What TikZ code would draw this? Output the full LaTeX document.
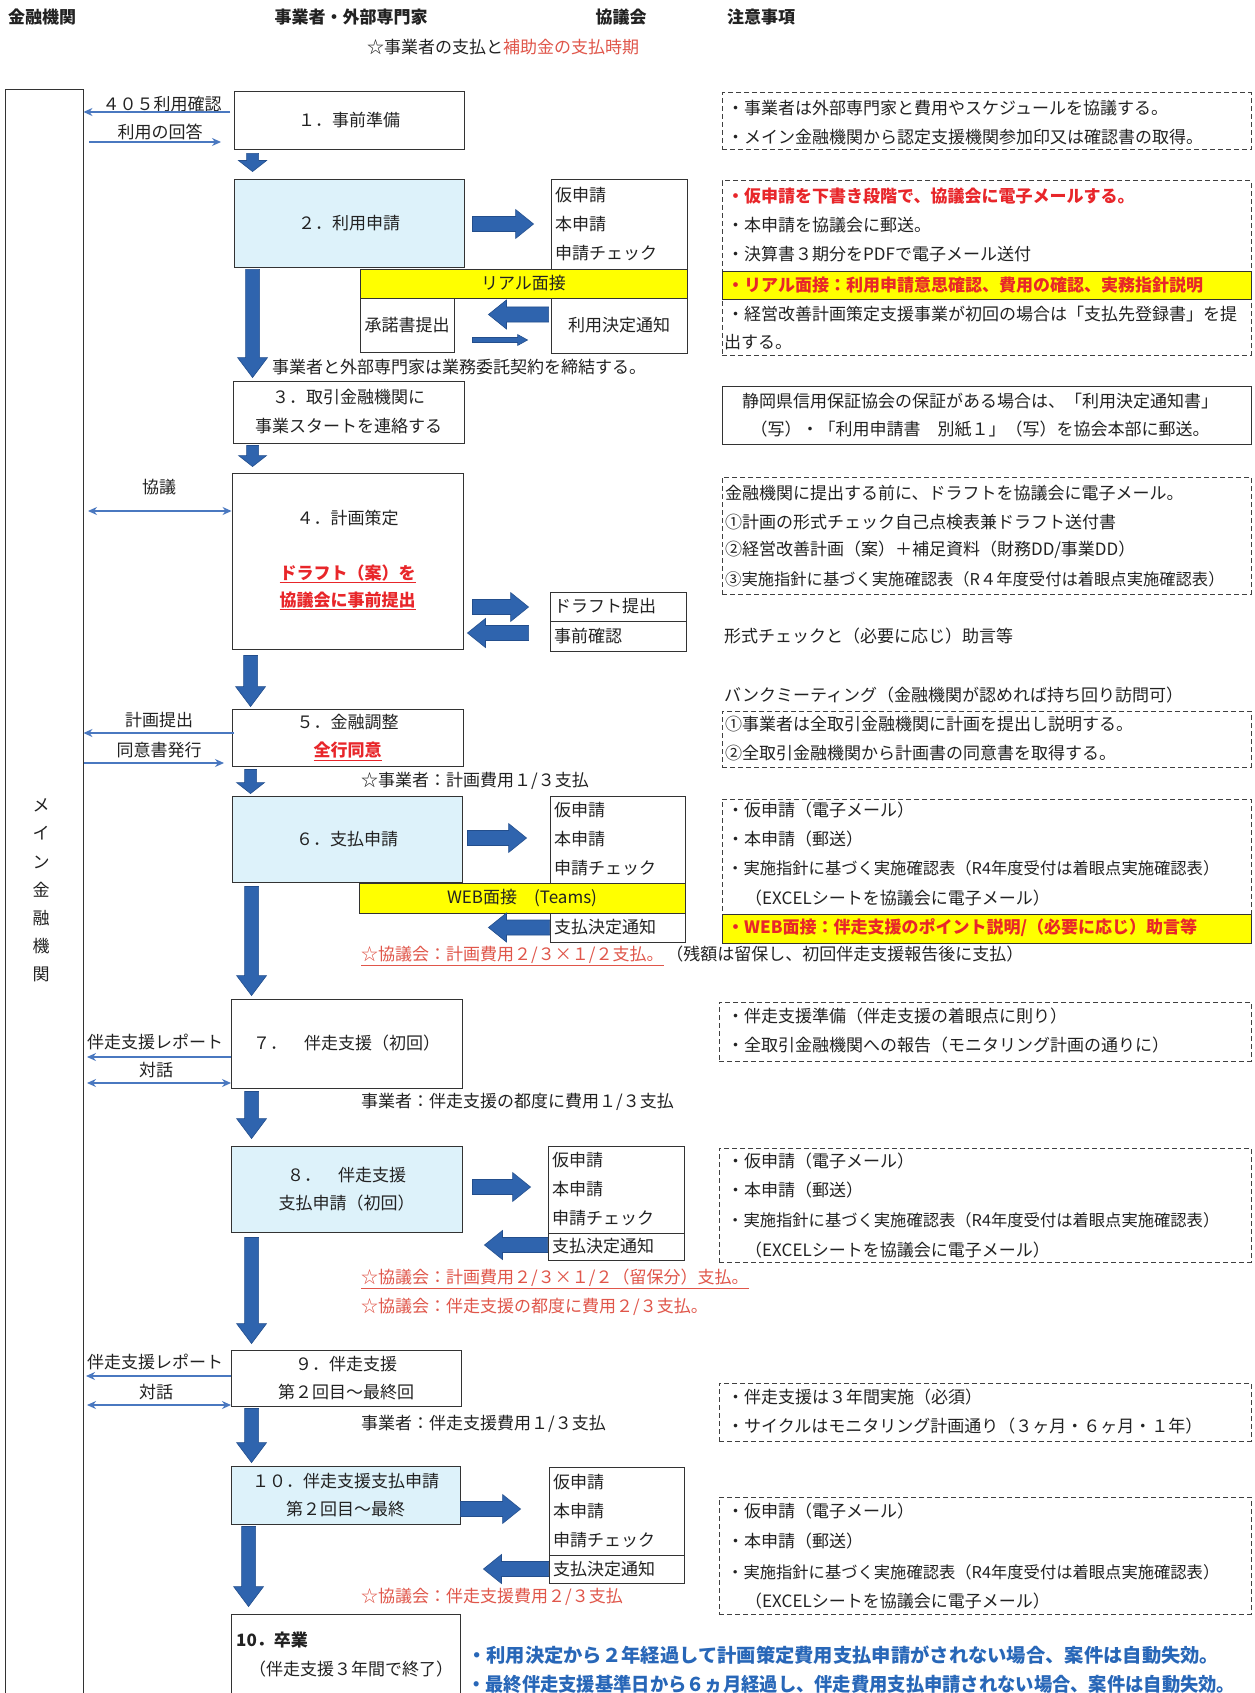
\documentclass[tikz,border=0pt]{standalone}
\usepackage{fontspec}
\setmainfont{Noto Sans CJK JP}
\usetikzlibrary{arrows.meta,calc}
\definecolor{lblue}{HTML}{DDF2FA}
\definecolor{barw}{HTML}{2F64AE}
\definecolor{barwd}{HTML}{234E8C}
\definecolor{thinb}{HTML}{4A78C0}
\definecolor{ylw}{HTML}{FFFF00}
\definecolor{rd}{HTML}{E8262A}
\definecolor{sal}{HTML}{E0564A}
\definecolor{blu}{HTML}{2867B8}
\definecolor{txt}{HTML}{222222}
\newcommand\fsA{\fontsize{17}{20}\selectfont}
\newcommand\fsB{\fontsize{16.3}{20}\selectfont}
\newcommand\fsL{\fontsize{17}{29}\selectfont}
\newcommand\fsV{\fontsize{17}{28.2}\selectfont}
\newcommand\fsT{\fontsize{17}{28}\selectfont}
\newcommand\fsG{\fontsize{19}{22}\selectfont}
\tikzset{
 every node/.style={font=\fsA, text=txt, inner sep=0pt},
 box/.style={draw=black!80, line width=0.9pt, align=center, fill=white, font=\fsT},
 lbox/.style={box, fill=lblue},
 ybar/.style={draw=black!80, line width=0.9pt, fill=ylw},
 lst/.style={draw=black!80, line width=0.9pt, fill=white, align=left, inner xsep=4pt, font=\fsL},
 note/.style={draw=black!75, line width=1pt, dash pattern=on 5pt off 3pt},
 nt/.style={anchor=west},
 thinar/.style={draw=thinb, line width=1.3pt, -{Stealth[length=9pt,width=8pt]}},
 thinbi/.style={draw=thinb, line width=1.3pt, {Stealth[length=9pt,width=8pt]}-{Stealth[length=9pt,width=8pt]}},
 bd/.style={fill=barw, draw=barwd, line width=0.6pt, to path={let \p1=(\tikztostart), \p2=(\tikztotarget) in (\x1-7pt,\y1) -- (\x1+7pt,\y1) -- (\x1+7pt,\y2+20pt) -- (\x1+15pt,\y2+20pt) -- (\x1,\y2) -- (\x1-15pt,\y2+20pt) -- (\x1-7pt,\y2+20pt) -- cycle}},
 bds/.style={fill=barw, draw=barwd, line width=0.6pt, to path={let \p1=(\tikztostart), \p2=(\tikztotarget) in (\x1-6pt,\y1) -- (\x1+6pt,\y1) -- (\x1+6pt,\y2+11pt) -- (\x1+14pt,\y2+11pt) -- (\x1,\y2) -- (\x1-14pt,\y2+11pt) -- (\x1-6pt,\y2+11pt) -- cycle}},
 br/.style={fill=barw, draw=barwd, line width=0.6pt, to path={let \p1=(\tikztostart), \p2=(\tikztotarget) in (\x1,\y1+7.5pt) -- (\x2-18pt,\y1+7.5pt) -- (\x2-18pt,\y1+14.5pt) -- (\x2,\y1) -- (\x2-18pt,\y1-14.5pt) -- (\x2-18pt,\y1-7.5pt) -- (\x1,\y1-7.5pt) -- cycle}},
 brs/.style={fill=barw, draw=barwd, line width=0.6pt, to path={let \p1=(\tikztostart), \p2=(\tikztotarget) in (\x1,\y1+2.5pt) -- (\x2-10pt,\y1+2.5pt) -- (\x2-10pt,\y1+5.5pt) -- (\x2,\y1) -- (\x2-10pt,\y1-5.5pt) -- (\x2-10pt,\y1-2.5pt) -- (\x1,\y1-2.5pt) -- cycle}},
 bl/.style={fill=barw, draw=barwd, line width=0.6pt, to path={let \p1=(\tikztostart), \p2=(\tikztotarget) in (\x1,\y1+7.5pt) -- (\x2+18pt,\y1+7.5pt) -- (\x2+18pt,\y1+14.5pt) -- (\x2,\y1) -- (\x2+18pt,\y1-14.5pt) -- (\x2+18pt,\y1-7.5pt) -- (\x1,\y1-7.5pt) -- cycle}},
}
\begin{document}
\begin{tikzpicture}[x=1pt,y=-1pt]
\useasboundingbox[fill=white] (0,0) rectangle (1254,1693);

% headers
\node[nt] (h1) at (8,17) {\bfseries 金融機関};
\node (h2) at (351,17) {\bfseries 事業者・外部専門家};
\node (h3) at (621,17) {\bfseries 協議会};
\node[nt] (h4) at (727,17) {\bfseries 注意事項};
\node (h5) at (503,47) {☆事業者の支払と\textcolor{sal}{補助金の支払時期}};

% main bank box
\node[box, minimum width=78pt, minimum height=1620pt] (mb) at (44,899) {};
\node[font=\fsV, align=center] (mbt) at (41,890.5) {メ\\イ\\ン\\金\\融\\機\\関};

% step boxes
\node[box, minimum width=230pt, minimum height=58pt] (b1) at (349,120) {１．事前準備};
\node[lbox, minimum width=230pt, minimum height=88pt] (b2) at (349,223) {２．利用申請};
\node[lst, text width=128pt, minimum height=90pt] (l2) at (619,224) {仮申請\\本申請\\申請チェック};
\node[ybar, minimum width=327pt, minimum height=29pt] (y2) at (523.5,283.5) {リアル面接};
\node[box, minimum width=94pt, minimum height=54pt] (s2) at (407,325) {承諾書提出};
\node[box, minimum width=136pt, minimum height=55pt] (d2) at (619,325.5) {利用決定通知};
\node[box, minimum width=231pt, minimum height=62pt, font=\fsL] (b3) at (348.5,412) {３．取引金融機関に\\事業スタートを連絡する};
\node[box, minimum width=231pt, minimum height=176pt] (b4) at (347.5,561) {};
\node (t4a) at (347.5,518) {４．計画策定};
\node (t4b) at (347.5,574) {\textcolor{rd}{\bfseries\underline{ドラフト（案）を}}};
\node (t4c) at (347.5,601) {\textcolor{rd}{\bfseries\underline{協議会に事前提出}}};
\node[lst, text width=128pt, minimum height=29pt, font=\fsA] (df) at (618,606.5) {ドラフト提出};
\node[lst, text width=128pt, minimum height=30pt, font=\fsA] (jk) at (618,636) {事前確認};
\node[box, minimum width=231pt, minimum height=57pt] (b5) at (347.5,737.5) {５．金融調整\\\textcolor{rd}{\bfseries\underline{全行同意}}};
\node[lbox, minimum width=230pt, minimum height=86pt] (b6) at (347,839) {６．支払申請};
\node[lst, text width=127pt, minimum height=87pt] (l6) at (617.5,839.5) {仮申請\\本申請\\申請チェック};
\node[ybar, minimum width=326pt, minimum height=30pt] (y6) at (522,898) {WEB面接　(Teams)};
\node[lst, text width=127pt, minimum height=29pt, font=\fsA] (d6) at (617.5,927.5) {支払決定通知};
\node[box, minimum width=231pt, minimum height=89pt] (b7) at (346.5,1043.5) {７．　伴走支援（初回）};
\node[lbox, minimum width=231pt, minimum height=86pt] (b8) at (346.5,1189) {８．　伴走支援\\支払申請（初回）};
\node[lst, text width=128pt, minimum height=87pt] (l8) at (616,1189.5) {仮申請\\本申請\\申請チェック};
\node[lst, text width=128pt, minimum height=27pt, font=\fsA] (d8) at (616,1246.5) {支払決定通知};
\node[box, minimum width=230pt, minimum height=56pt] (b9) at (346,1378) {９．伴走支援\\第２回目～最終回};
\node[lbox, minimum width=229pt, minimum height=58pt] (b10) at (345.5,1495) {１０．伴走支援支払申請\\第２回目～最終};
\node[lst, text width=127pt, minimum height=88pt] (l10) at (616.5,1511) {仮申請\\本申請\\申請チェック};
\node[lst, text width=127pt, minimum height=28pt, font=\fsA] (d10) at (616.5,1569) {支払決定通知};
\node[box, minimum width=229pt, minimum height=96pt] (b11) at (345.5,1662) {};
\node[nt] (t11a) at (236,1640) {\bfseries 10．卒業};
\node (t11b) at (351,1669) {（伴走支援３年間で終了）};

% block arrows
\path[bds] ($(b1.south west)+(19,4)$) to ($(b2.north west)+(19,-7)$);
\path[bd] ($(b2.south west)+(19,2)$) to ($(b3.north west)+(20,-3)$);
\path[bds] ($(b3.south west)+(20,2)$) to ($(b4.north west)+(21,-6)$);
\path[bd] ($(b4.south west)+(19,6)$) to ($(b5.north west)+(19,-2)$);
\path[bds] ($(b5.south west)+(19,3)$) to ($(b6.north west)+(19,-2)$);
\path[bd] ($(b6.south west)+(20,4)$) to ($(b7.north west)+(21,-3)$);
\path[bd] ($(b7.south west)+(21,3)$) to ($(b8.north west)+(21,-7)$);
\path[bd] ($(b8.south west)+(21,5)$) to ($(b9.north west)+(21,-6)$);
\path[bd] ($(b9.south west)+(21,2)$) to ($(b10.north west)+(21,-3)$);
\path[bd] ($(b10.south west)+(18,2)$) to ($(b11.north west)+(18,-7)$);

\path[br] ($(b2.east)+(8,1)$) to ($(l2.west)+(-17,0)$);
\path[bl] ($(d2.west)+(-2,-11)$) to ($(s2.east)+(34,-11)$);
\path[brs] ($(s2.east)+(18,15)$) to ($(d2.west)+(-23,15)$);
\path[br] ($(b4.east)+(9,46)$) to ($(df.west)+(-21,0)$);
\path[bl] ($(jk.west)+(-21,-3)$) to ($(b4.east)+(4,72)$);
\path[br] ($(b6.east)+(5,-1)$) to ($(l6.west)+(-23,0)$);
\path[bl] (d6.west) to ($(b6.east)+(26,0)$);
\path[br] ($(b8.east)+(10,-2)$) to ($(l8.west)+(-17,0)$);
\path[bl] ($(d8.west)+(0,-1.5)$) to ($(b8.east)+(22,0)$);
\path[br] ($(b10.east)+(0,14)$) to ($(l10.west)+(-28,0)$);
\path[bl] (d10.west) to ($(b10.east)+(23,0)$);

% thin connectors and labels
\node (k1) at (162,104) {４０５利用確認};
\coordinate (a1) at (230,112);
\draw[thinar] (a1) -- (a1 -| mb.east);
\node (k2) at (160,132) {利用の回答};
\coordinate (a2) at (89,142); \coordinate (a2e) at (221,142);
\draw[thinar] (a2) -- (a2e);
\node (k3) at (159,487) {協議};
\coordinate (a3) at (88,511);
\draw[thinbi] (a3) -- (a3 -| b4.west);
\node (k4) at (159,720) {計画提出};
\coordinate (a4) at (234,733);
\draw[thinar] (a4) -- (a4 -| mb.east);
\node (k5) at (159,750) {同意書発行};
\coordinate (a5) at (84,763); \coordinate (a5e) at (224,763);
\draw[thinar] (a5) -- (a5e);
\node (k6) at (155,1042) {伴走支援レポート};
\coordinate (a6) at (231,1057); \coordinate (a6e) at (87,1057);
\draw[thinar] (a6) -- (a6e);
\node (k7) at (156,1070) {対話};
\coordinate (a7) at (87,1083); \coordinate (a7e) at (231,1083);
\draw[thinbi] (a7) -- (a7e);
\node (k8) at (155,1362) {伴走支援レポート};
\coordinate (a8) at (231,1376); \coordinate (a8e) at (86,1376);
\draw[thinar] (a8) -- (a8e);
\node (k9) at (156,1392) {対話};
\coordinate (a9) at (87,1405); \coordinate (a9e) at (231,1405);
\draw[thinbi] (a9) -- (a9e);

% texts in middle column
\node[nt] (m1) at (272,367) {事業者と外部専門家は業務委託契約を締結する。};
\node[nt] (m2) at (724,636) {形式チェックと（必要に応じ）助言等};
\node[nt] (m3) at (361,781) {☆事業者：計画費用１/３支払};
\node[nt] (m4) at (361,956) {\textcolor{sal}{\underline{☆協議会：計画費用２/３×１/２支払。}}\,（残額は留保し、初回伴走支援報告後に支払）};
\node[nt] (m5) at (361,1102) {事業者：伴走支援の都度に費用１/３支払};
\node[nt] (m6) at (361,1279) {\textcolor{sal}{\underline{☆協議会：計画費用２/３×１/２（留保分）支払。}}};
\node[nt] (m7) at (361,1307) {\textcolor{sal}{☆協議会：伴走支援の都度に費用２/３支払。}};
\node[nt] (m8) at (361,1424) {事業者：伴走支援費用１/３支払};
\node[nt] (m9) at (361,1597) {\textcolor{sal}{☆協議会：伴走支援費用２/３支払}};
\node[nt, font=\fsG] (m10) at (467,1655) {\resizebox{752pt}{\height}{\textcolor{blu}{\bfseries ・利用決定から２年経過して計画策定費用支払申請がされない場合、案件は自動失効。}}};
\node[nt, font=\fsG] (m11) at (467,1684) {\resizebox{768pt}{\height}{\textcolor{blu}{\bfseries ・最終伴走支援基準日から６ヵ月経過し、伴走費用支払申請されない場合、案件は自動失効。}}};

% notes column
\node[note, minimum width=529pt, minimum height=57pt] (n1) at (986.5,121.5) {};
\node[nt] (n1a) at (727,108) {・事業者は外部専門家と費用やスケジュールを協議する。};
\node[nt] (n1b) at (727,137) {・メイン金融機関から認定支援機関参加印又は確認書の取得。};

\node[note, minimum width=529pt, minimum height=174pt] (n2) at (986.5,268) {};
\node[ybar, minimum width=529pt, minimum height=28pt] (n2y) at (986.5,285) {};
\node[nt] (n2a) at (727,196) {\textcolor{rd}{\bfseries ・仮申請を下書き段階で、協議会に電子メールする。}};
\node[nt] (n2b) at (727,225) {・本申請を協議会に郵送。};
\node[nt] (n2c) at (727,254) {・決算書３期分をPDFで電子メール送付};
\node[nt] (n2d) at (727,285) {\textcolor{rd}{\bfseries ・リアル面接：利用申請意思確認、費用の確認、実務指針説明}};
\node[nt] (n2e) at (727,314) {・経営改善計画策定支援事業が初回の場合は「支払先登録書」を提};
\node[nt] (n2f) at (724,342) {出する。};

\node[box, minimum width=529pt, minimum height=58pt] (n3) at (986.5,415) {};
\node (n3a) at (980,401) {静岡県信用保証協会の保証がある場合は、「利用決定通知書」};
\node (n3b) at (980,429) {（写）・「利用申請書　別紙１」（写）を協会本部に郵送。};

\node[note, minimum width=529pt, minimum height=117pt] (n4) at (986.5,535.5) {};
\node[nt] (n4a) at (725,493) {金融機関に提出する前に、ドラフトを協議会に電子メール。};
\node[nt] (n4b) at (725,522) {①計画の形式チェック自己点検表兼ドラフト送付書};
\node[nt] (n4c) at (725,550) {②経営改善計画（案）＋補足資料（財務DD/事業DD）};
\node[nt, font=\fsB] (n4d) at (725,579) {③実施指針に基づく実施確認表（R４年度受付は着眼点実施確認表）};

\node[nt] (n5t) at (724,695) {バンクミーティング（金融機関が認めれば持ち回り訪問可）};
\node[note, minimum width=529pt, minimum height=56pt] (n5) at (986.5,739) {};
\node[nt] (n5a) at (725,724) {①事業者は全取引金融機関に計画を提出し説明する。};
\node[nt] (n5b) at (725,753) {②全取引金融機関から計画書の同意書を取得する。};

\node[note, minimum width=529pt, minimum height=115pt] (n6) at (986.5,856.5) {};
\node[ybar, minimum width=529pt, minimum height=29pt] (n6y) at (986.5,928.5) {};
\node[nt] (n6a) at (727,810) {・仮申請（電子メール）};
\node[nt] (n6b) at (727,839) {・本申請（郵送）};
\node[nt, font=\fsB] (n6c) at (727,868) {・実施指針に基づく実施確認表（R4年度受付は着眼点実施確認表）};
\node[nt] (n6d) at (745,898) {（EXCELシートを協議会に電子メール）};
\node[nt] (n6e) at (727,928) {\textcolor{rd}{\bfseries ・WEB面接：伴走支援のポイント説明/（必要に応じ）助言等}};

\node[note, minimum width=532pt, minimum height=59pt] (n7) at (985,1031.5) {};
\node[nt] (n7a) at (727,1016) {・伴走支援準備（伴走支援の着眼点に則り）};
\node[nt] (n7b) at (727,1045) {・全取引金融機関への報告（モニタリング計画の通りに）};

\node[note, minimum width=532pt, minimum height=114pt] (n8) at (985,1205) {};
\node[nt] (n8a) at (727,1161) {・仮申請（電子メール）};
\node[nt] (n8b) at (727,1190) {・本申請（郵送）};
\node[nt, font=\fsB] (n8c) at (727,1220) {・実施指針に基づく実施確認表（R4年度受付は着眼点実施確認表）};
\node[nt] (n8d) at (745,1250) {（EXCELシートを協議会に電子メール）};

\node[note, minimum width=532pt, minimum height=58pt] (n9) at (985,1412) {};
\node[nt] (n9a) at (727,1397) {・伴走支援は３年間実施（必須）};
\node[nt] (n9b) at (727,1426) {・サイクルはモニタリング計画通り（３ヶ月・６ヶ月・１年）};

\node[note, minimum width=532pt, minimum height=117pt] (n10) at (985,1555.5) {};
\node[nt] (n10a) at (727,1511) {・仮申請（電子メール）};
\node[nt] (n10b) at (727,1541) {・本申請（郵送）};
\node[nt, font=\fsB] (n10c) at (727,1572) {・実施指針に基づく実施確認表（R4年度受付は着眼点実施確認表）};
\node[nt] (n10d) at (745,1601) {（EXCELシートを協議会に電子メール）};
\end{tikzpicture}
\end{document}
